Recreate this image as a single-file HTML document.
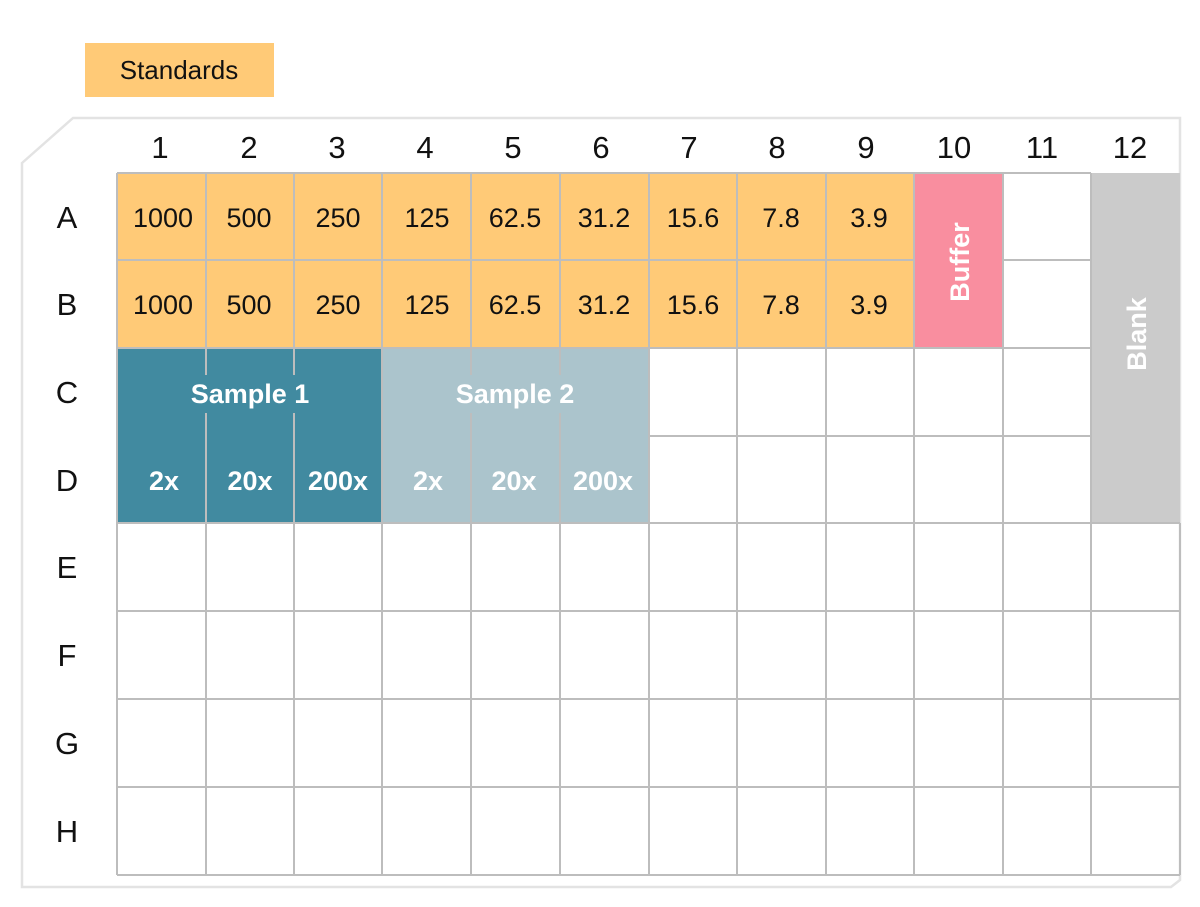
<!DOCTYPE html>
<html><head><meta charset="utf-8"><style>
html,body{margin:0;padding:0;background:#fff;width:1200px;height:907px;overflow:hidden}
svg{display:block}
text{font-family:"Liberation Sans",sans-serif}
</style></head><body>
<svg width="1200" height="907" viewBox="0 0 1200 907">
<rect x="85" y="43" width="189" height="54" fill="#FFCA77"/>
<text x="179" y="79" font-size="26" text-anchor="middle" fill="#111">Standards</text>
<path d="M22,163 L73,118 L1180,118 L1180,880 L1171,887 L22,887 Z" fill="none" stroke="#e3e3e3" stroke-width="2.5"/>
<g id="fills">
<rect x="117" y="173" width="797" height="175" fill="#FFCA77"/>
<rect x="914" y="173" width="89" height="175" fill="#F98E9F"/>
<rect x="1091" y="173" width="89" height="350" fill="#CBCBCB"/>
<rect x="117" y="348" width="265" height="175" fill="#418AA0"/>
<rect x="382" y="348" width="267" height="175" fill="#ABC4CC"/>
</g>
<g stroke="#BDBDBD" stroke-width="2" fill="none">
<line x1="117" y1="173" x2="1091" y2="173"/>
<line x1="117" y1="260" x2="914" y2="260"/>
<line x1="1003" y1="260" x2="1091" y2="260"/>
<line x1="117" y1="348" x2="1091" y2="348"/>
<line x1="649" y1="436" x2="1091" y2="436"/>
<line x1="117" y1="523" x2="1180" y2="523"/>
<line x1="117" y1="611" x2="1180" y2="611"/>
<line x1="117" y1="699" x2="1180" y2="699"/>
<line x1="117" y1="787" x2="1180" y2="787"/>
<line x1="117" y1="875" x2="1180" y2="875"/>
<line x1="117" y1="173" x2="117" y2="875"/>
<line x1="1180" y1="523" x2="1180" y2="875"/>
<line x1="206" y1="173" x2="206" y2="375"/><line x1="206" y1="413" x2="206" y2="875"/>
<line x1="294" y1="173" x2="294" y2="375"/><line x1="294" y1="413" x2="294" y2="875"/>
<line x1="382" y1="173" x2="382" y2="875"/>
<line x1="471" y1="173" x2="471" y2="375"/><line x1="471" y1="413" x2="471" y2="875"/>
<line x1="560" y1="173" x2="560" y2="375"/><line x1="560" y1="413" x2="560" y2="875"/>
<line x1="649" y1="173" x2="649" y2="875"/>
<line x1="737" y1="173" x2="737" y2="875"/>
<line x1="826" y1="173" x2="826" y2="875"/>
<line x1="914" y1="173" x2="914" y2="875"/>
<line x1="1003" y1="173" x2="1003" y2="875"/>
<line x1="1091" y1="173" x2="1091" y2="875"/>
</g>
<g font-size="31" fill="#111" text-anchor="middle">
<text x="160" y="158">1</text><text x="249" y="158">2</text><text x="337" y="158">3</text>
<text x="425" y="158">4</text><text x="513" y="158">5</text><text x="601" y="158">6</text>
<text x="689" y="158">7</text><text x="777" y="158">8</text><text x="866" y="158">9</text>
<text x="954" y="158">10</text><text x="1042" y="158">11</text><text x="1130" y="158">12</text>
<text x="67" y="228">A</text><text x="67" y="315">B</text><text x="67" y="403">C</text>
<text x="67" y="491">D</text><text x="67" y="578">E</text><text x="67" y="666">F</text>
<text x="67" y="754">G</text><text x="67" y="842">H</text>
</g>
<g font-size="27" fill="#111" text-anchor="middle">
<text x="163" y="227">1000</text><text x="249" y="227">500</text><text x="338" y="227">250</text>
<text x="427" y="227">125</text><text x="515" y="227">62.5</text><text x="604" y="227">31.2</text>
<text x="693" y="227">15.6</text><text x="781" y="227">7.8</text><text x="869" y="227">3.9</text>
<text x="163" y="314">1000</text><text x="249" y="314">500</text><text x="338" y="314">250</text>
<text x="427" y="314">125</text><text x="515" y="314">62.5</text><text x="604" y="314">31.2</text>
<text x="693" y="314">15.6</text><text x="781" y="314">7.8</text><text x="869" y="314">3.9</text>
</g>
<g font-size="27" fill="#fff" font-weight="bold" text-anchor="middle">
<text x="250" y="403">Sample 1</text><text x="515" y="403">Sample 2</text>
<text x="164" y="490">2x</text><text x="250" y="490">20x</text><text x="338" y="490">200x</text>
<text x="428" y="490">2x</text><text x="514" y="490">20x</text><text x="603" y="490">200x</text>
<text transform="translate(969,262) rotate(-90)">Buffer</text>
<text transform="translate(1146,334) rotate(-90)">Blank</text>
</g>
</svg>
</body></html>
